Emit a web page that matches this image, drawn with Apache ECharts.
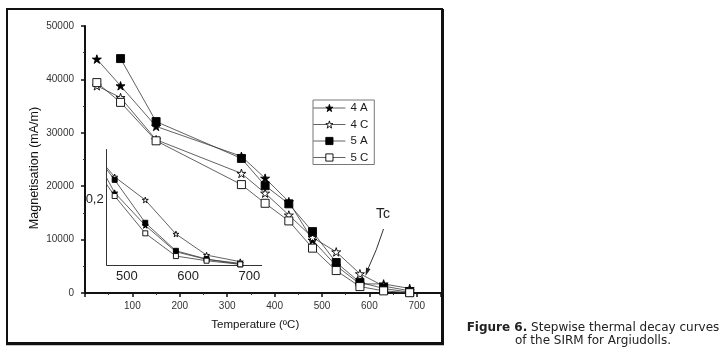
<!DOCTYPE html>
<html>
<head>
<meta charset="utf-8">
<script src="https://cdn.jsdelivr.net/npm/echarts@6/dist/echarts.min.js"></script>
<style>
  html, body { margin: 0; padding: 0; background: #fff; }
  #chart { width: 724px; height: 353px; }
</style>
</head>
<body>
<div id="chart"></div>
<script>
// main curves: magnetisation (mA/m) vs temperature (°C)
const temps = [25, 75, 150, 330, 380, 430, 480, 530, 580, 630, 685];
const m4A = [43800, 38800, 31200, 25600, 21500, 17100, 9900, 5100, 1700, 1700, 850];
const m4C = [38800, 36600, 28700, 22400, 18700, 14600, 10400, 7700, 3600, 1300, 400];
const m5A = [null, 43900, 32100, 25200, 20100, 16700, 11500, 5700, 2000, 850, 150];
const m5C = [39400, 35700, 28500, 20300, 16800, 13500, 8400, 4200, 1200, 400, 50];

// inset: normalised curves, high temperature part
const insetTemps = [430, 480, 530, 580, 630, 685];
const r4A = [0.39, 0.219, 0.120, 0.040, 0.017, 0.005];
const r4C = [0.376, 0.267, 0.197, 0.094, 0.030, 0.010];
const r5A = [0.379, 0.258, 0.128, 0.043, 0.018, 0.002];
const r5C = [0.344, 0.209, 0.096, 0.027, 0.013, 0.002];

const insetXTicks = [500, 600, 700];
const insetYTicks = [0.2];

const names = ['4 A', '4 C', '5 A', '5 C'];

const star = 'path://M50,0 L61,35 L98,35 L68,57 L79,91 L50,70 L21,91 L32,57 L2,35 L39,35 Z';
const font = '"Liberation Sans", Arial, sans-serif';
const lineCol = '#3a3a3a';

const marks = {
  '4 A': { symbol: star, fill: '#000', size: 9, small: 6 },
  '4 C': { symbol: star, fill: '#fff', size: 9, small: 6 },
  '5 A': { symbol: 'rect', fill: '#000', size: 8, small: 5 },
  '5 C': { symbol: 'rect', fill: '#fff', size: 8, small: 5 },
};

const pair = (xs, ys) => xs.map((x, i) => [x, ys[i]]);

function mkSeries(name, xs, ys, idx, inset) {
  const m = marks[name];
  return {
    name: name,
    type: 'line',
    xAxisIndex: idx,
    yAxisIndex: idx,
    data: pair(xs, ys),
    symbol: m.symbol,
    symbolKeepAspect: true,
    symbolSize: inset ? m.small : m.size,
    showAllSymbol: true,
    clip: true,
    lineStyle: { color: lineCol, width: 0.8 },
    itemStyle: { color: m.fill, borderColor: '#000', borderWidth: 0.9 },
    emphasis: { disabled: true },
    z: inset ? 3 : 4,
  };
}

const chart = echarts.init(document.getElementById('chart'), null, { renderer: 'canvas' });

const option = {
  animation: false,
  backgroundColor: '#fff',
  textStyle: { fontFamily: font },
  grid: [
    { left: 85, top: 26, width: 355.5, height: 267 },
    { left: 106.7, top: 149.5, width: 155, height: 115.5 },
  ],
  legend: {
    data: names.map(n => ({
      name: n,
      itemStyle: { color: marks[n].fill, borderColor: '#000', borderWidth: 0.9 },
      lineStyle: { color: lineCol, width: 0.8 },
    })),
    orient: 'vertical',
    left: 313,
    top: 100,
    itemWidth: 32,
    itemHeight: 9,
    itemGap: 4.5,
    padding: [2, 6, 1, 0],
    borderColor: '#777',
    borderWidth: 1,
    selectedMode: false,
    textStyle: { fontSize: 11.5, color: '#1a1a1a', fontFamily: font },
  },
  xAxis: [
    {
      gridIndex: 0,
      type: 'value',
      min: 0,
      max: 750,
      interval: 100,
      name: 'Temperature (ºC)',
      nameLocation: 'middle',
      nameGap: 26,
      nameTextStyle: { fontSize: 11.5, color: '#111', fontFamily: font, padding: [0, 15, 0, 0] },
      axisLine: { lineStyle: { color: '#111', width: 2 } },
      axisTick: { length: 4, lineStyle: { color: '#111', width: 1.5 } },
      minorTick: { show: true, splitNumber: 2, length: 2, lineStyle: { color: '#333' } },
      splitLine: { show: false },
      axisLabel: {
        fontSize: 10, color: '#333', margin: 8, fontFamily: font,
        formatter: v => (v > 0 && v % 100 === 0 ? String(v) : ''),
      },
    },
    {
      gridIndex: 1,
      type: 'value',
      min: 467,
      max: 720,
      axisLine: { lineStyle: { color: '#333', width: 1 } },
      axisTick: { show: false },
      splitLine: { show: false },
      axisLabel: { customValues: insetXTicks, fontSize: 13, color: '#222', margin: 5, fontFamily: font },
    },
  ],
  yAxis: [
    {
      gridIndex: 0,
      type: 'value',
      min: 0,
      max: 50000,
      interval: 10000,
      name: 'Magnetisation (mA/m)',
      nameLocation: 'middle',
      nameGap: 44,
      nameTextStyle: { fontSize: 12.5, color: '#111', fontFamily: font, padding: [0, 17, 0, 0] },
      axisLine: { show: true, lineStyle: { color: '#111', width: 2 } },
      axisTick: { show: true, length: 4, lineStyle: { color: '#111', width: 1.5 } },
      minorTick: { show: true, splitNumber: 2, length: 2, lineStyle: { color: '#333' } },
      splitLine: { show: false },
      axisLabel: { fontSize: 10, color: '#333', margin: 11, fontFamily: font, formatter: v => String(v) },
    },
    {
      gridIndex: 1,
      type: 'value',
      min: 0,
      max: 0.35,
      axisLine: { show: true, lineStyle: { color: '#333', width: 1 } },
      axisTick: { show: false },
      splitLine: { show: false },
      axisLabel: {
        customValues: insetYTicks, fontSize: 13, color: '#222', margin: 3, fontFamily: font,
        formatter: v => String(v).replace('.', ','),
      },
    },
  ],
  series: [
    mkSeries('4 A', temps, m4A, 0, false),
    mkSeries('4 C', temps, m4C, 0, false),
    mkSeries('5 A', temps, m5A, 0, false),
    mkSeries('5 C', temps, m5C, 0, false),
    mkSeries('4 A', insetTemps, r4A, 1, true),
    mkSeries('4 C', insetTemps, r4C, 1, true),
    mkSeries('5 A', insetTemps, r5A, 1, true),
    mkSeries('5 C', insetTemps, r5C, 1, true),
  ],
  graphic: [
    // figure frame
    { type: 'rect', shape: { x: 7, y: 9, width: 435, height: 334 },
      style: { fill: 'none', stroke: '#111', lineWidth: 2 }, silent: true },
    { type: 'line', shape: { x1: 442.5, y1: 9, x2: 442.5, y2: 345 },
      style: { stroke: '#111', lineWidth: 3 }, silent: true },
    { type: 'line', shape: { x1: 6, y1: 343.8, x2: 444, y2: 343.8 },
      style: { stroke: '#111', lineWidth: 3 }, silent: true },
    // Tc annotation
    { type: 'text', left: 376, top: 207,
      style: { text: 'Tc', fontSize: 14, fill: '#222', fontFamily: font } },
    { type: 'bezierCurve',
      shape: { x1: 383.5, y1: 229, cpx1: 377, cpy1: 250, x2: 367.5, y2: 270 },
      style: { stroke: '#333', lineWidth: 1, fill: 'none' }, silent: true },
    { type: 'polygon',
      shape: { points: [[365.5, 276], [366, 267.5], [370.5, 269]] },
      style: { fill: '#222' }, silent: true },
    // caption
    { type: 'text', x: 593, y: 321,
      style: {
        text: '{b|Figure 6.} Stepwise thermal decay curves\nof the SIRM for Argiudolls.',
        align: 'center',
        fill: '#222',
        fontSize: 12,
        lineHeight: 13,
        fontFamily: '"DejaVu Sans", Verdana, sans-serif',
        rich: { b: { fontWeight: 'bold', fontSize: 12, lineHeight: 13, fontFamily: '"DejaVu Sans", Verdana, sans-serif', fill: '#222' } },
      } },
  ],
};

chart.setOption(option);
</script>
</body>
</html>
